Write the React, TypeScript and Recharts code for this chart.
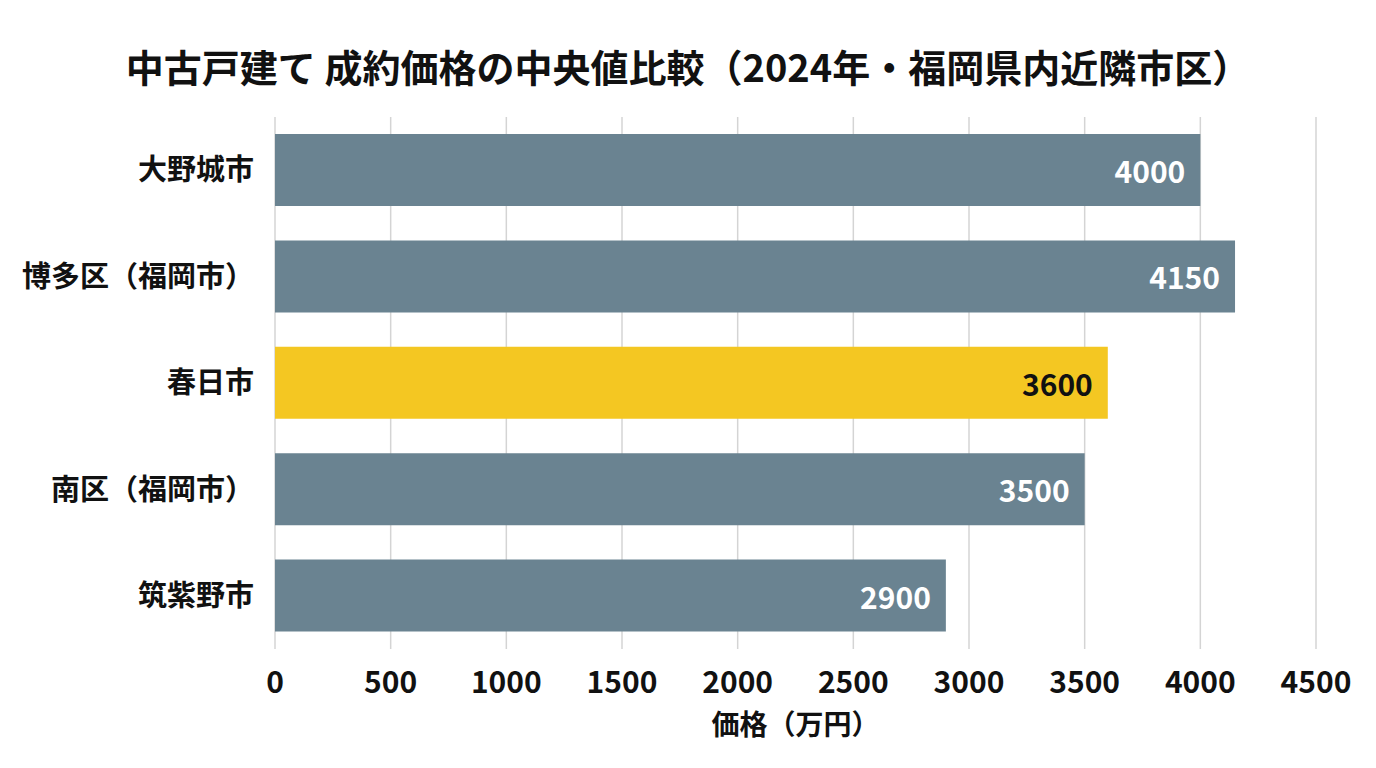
import React from "react";
import { BarChart, Bar, XAxis, YAxis, CartesianGrid, Cell, LabelList } from "recharts";

const categories = ["大野城市", "博多区（福岡市）", "春日市", "南区（福岡市）", "筑紫野市"];
const prices = [4000, 4150, 3600, 3500, 2900];
const highlight = ["", "", "春日市", "", ""];
const xTicks = [0, 500, 1000, 1500, 2000, 2500, 3000, 3500, 4000, 4500];

const title = "中古戸建て 成約価格の中央値比較（2024年・福岡県内近隣市区）";
const xLabel = "価格（万円）";

const FONT = '"Noto Sans CJK JP", "Noto Sans", sans-serif';
const GRAY = "#6a8391";
const YELLOW = "#f4c722";

const data = categories.map((name, i) => ({ name, value: prices[i], hl: highlight[i] === name }));

const ValueLabel = (props: any) => {
  const { x, y, width, height, value, index } = props;
  const hl = data[index]?.hl;
  return (
    <text
      x={x + width - 15}
      y={y + height / 2}
      textAnchor="end"
      dominantBaseline="central"
      fill={hl ? "#111" : "#ffffff"}
      fontFamily={FONT}
      fontWeight={700}
      fontSize={30}
    >
      {value}
    </text>
  );
};

export default function App() {
  return (
    <div style={{ position: "absolute", left: 0, top: 0, width: 1376, height: 768, background: "#fff", fontFamily: FONT }}>
      <div
        style={{
          position: "absolute",
          left: 0,
          top: 40,
          width: 1376,
          textAlign: "center",
          fontSize: 38,
          fontWeight: 700,
          color: "#111",
          lineHeight: "52px",
          whiteSpace: "nowrap",
        }}
      >
        {title}
      </div>
      <BarChart
        width={1376}
        height={768}
        data={data}
        layout="vertical"
        margin={{ top: 117, right: 60, bottom: 59, left: 0 }}
        barSize={72}
      >
        <CartesianGrid horizontal={false} vertical={true} stroke="#d4d4d4" strokeWidth={1.5} />
        <XAxis
          type="number"
          domain={[0, 4500]}
          ticks={xTicks}
          axisLine={false}
          tickLine={false}
          tickSize={0}
          tickMargin={23}
          height={60}
          interval={0}
          tick={{ fill: "#111", fontSize: 30, fontWeight: 700, fontFamily: FONT }}
          label={{ value: xLabel, position: "bottom", offset: 6, fill: "#111", fontSize: 28, fontWeight: 700, fontFamily: FONT }}
        />
        <YAxis
          type="category"
          dataKey="name"
          width={275}
          axisLine={false}
          tickLine={false}
          tickSize={0}
          tickMargin={21}
          interval={0}
          tick={{ fill: "#111", fontSize: 29, fontWeight: 700, fontFamily: FONT }}
        />
        <Bar dataKey="value" isAnimationActive={false}>
          {data.map((d, i) => (
            <Cell key={i} fill={d.hl ? YELLOW : GRAY} />
          ))}
          <LabelList dataKey="value" content={<ValueLabel />} />
        </Bar>
      </BarChart>
    </div>
  );
}
